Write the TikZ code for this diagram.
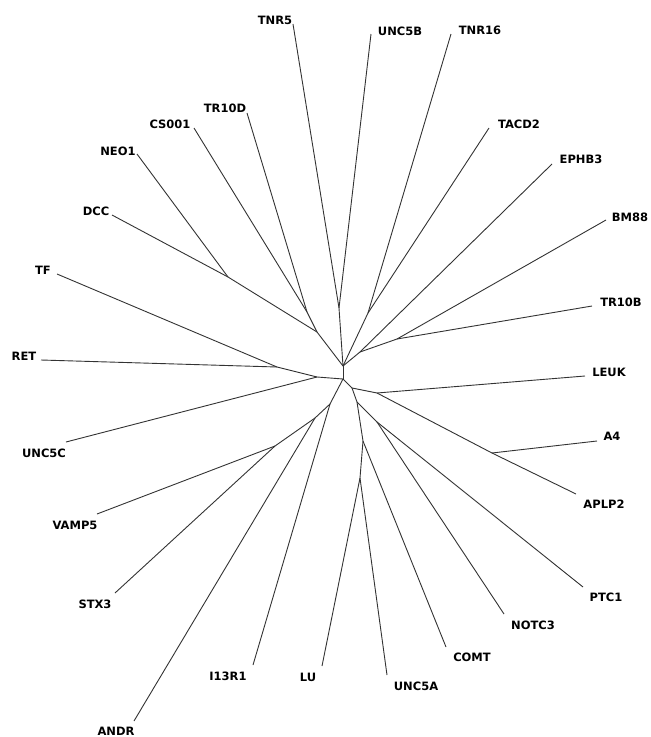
\documentclass[tikz,border=0pt]{standalone}
\usepackage{fontspec}
\setmainfont{DejaVu Sans}
\usepackage{tikz}
\usetikzlibrary{calc}

\begin{document}
\begin{tikzpicture}[x=1pt,y=-1pt,
  leaf/.style={font=\fontsize{11.5}{12}\selectfont\bfseries,inner sep=0pt},
  branch/.style={line width=0.9pt,black!80}]
\useasboundingbox (0,0) rectangle (651,737);
% inner nodes
\coordinate (c1) at (343,366);
\coordinate (c2) at (343,379);
\coordinate (ul) at (317,332);
\coordinate (csd) at (307,312);
\coordinate (nd) at (228,277);
\coordinate (tu) at (339,308);
\coordinate (tt) at (368,313);
\coordinate (er) at (360,352);
\coordinate (bt) at (397,339);
\coordinate (ll) at (317,377);
\coordinate (tr) at (277,367);
\coordinate (dl) at (330,404);
\coordinate (ag) at (315,418);
\coordinate (vs) at (275,446);
\coordinate (dr) at (352,388);
\coordinate (la) at (377,393);
\coordinate (aa) at (492,453);
\coordinate (md) at (357,402);
\coordinate (pn) at (377,422);
\coordinate (cm) at (363,441);
\coordinate (lu5) at (360,478);
% tips
\coordinate (tnr5) at (293,24);
\coordinate (unc5b) at (371,34);
\coordinate (tnr16) at (451,34);
\coordinate (tacd2) at (489,128);
\coordinate (ephb3) at (552,164);
\coordinate (bm88) at (606,220);
\coordinate (tr10b) at (592,306);
\coordinate (leuk) at (585,376);
\coordinate (a4) at (597,441);
\coordinate (aplp2) at (576,494);
\coordinate (ptc1) at (583,587);
\coordinate (notc3) at (504,614);
\coordinate (comt) at (446,647);
\coordinate (unc5a) at (387,675);
\coordinate (lu) at (322,666);
\coordinate (i13r1) at (253,665);
\coordinate (andr) at (134,721);
\coordinate (stx3) at (115,593);
\coordinate (vamp5) at (97,514);
\coordinate (unc5c) at (66,442);
\coordinate (ret) at (41,360);
\coordinate (tf) at (57,274);
\coordinate (dcc) at (112,215);
\coordinate (neo1) at (137,154);
\coordinate (cs001) at (194,128);
\coordinate (tr10d) at (247,113);
% labels
\node[leaf] (tnr5-l) at (275,20) {TNR5};
\node[leaf] (unc5b-l) at (400,31) {UNC5B};
\node[leaf] (tnr16-l) at (480,30) {TNR16};
\node[leaf] (tacd2-l) at (519,124) {TACD2};
\node[leaf] (ephb3-l) at (581,159) {EPHB3};
\node[leaf] (bm88-l) at (630,217) {BM88};
\node[leaf] (tr10b-l) at (621,302) {TR10B};
\node[leaf] (leuk-l) at (609,372) {LEUK};
\node[leaf] (a4-l) at (612,436) {A4};
\node[leaf] (aplp2-l) at (604,504) {APLP2};
\node[leaf] (ptc1-l) at (606,597) {PTC1};
\node[leaf] (notc3-l) at (533,625) {NOTC3};
\node[leaf] (comt-l) at (472,657) {COMT};
\node[leaf] (unc5a-l) at (416,686) {UNC5A};
\node[leaf] (lu-l) at (308,677) {LU};
\node[leaf] (i13r1-l) at (228,676) {I13R1};
\node[leaf] (andr-l) at (116,731) {ANDR};
\node[leaf] (stx3-l) at (95,604) {STX3};
\node[leaf] (vamp5-l) at (75,525) {VAMP5};
\node[leaf] (unc5c-l) at (44,453) {UNC5C};
\node[leaf] (ret-l) at (24,356) {RET};
\node[leaf] (tf-l) at (43,270) {TF};
\node[leaf] (dcc-l) at (96,211) {DCC};
\node[leaf] (neo1-l) at (118,151) {NEO1};
\node[leaf] (cs001-l) at (170,124) {CS001};
\node[leaf] (tr10d-l) at (225,108) {TR10D};
% branches
\draw[branch] (c1) -- (c2);
\draw[branch] (c1) -- (ul);
\draw[branch] (ul) -- (csd);
\draw[branch] (csd) -- (cs001);
\draw[branch] (csd) -- (tr10d);
\draw[branch] (ul) -- (nd);
\draw[branch] (nd) -- (neo1);
\draw[branch] (nd) -- (dcc);
\draw[branch] (c1) -- (tu);
\draw[branch] (tu) -- (tnr5);
\draw[branch] (tu) -- (unc5b);
\draw[branch] (c1) -- (tt);
\draw[branch] (tt) -- (tnr16);
\draw[branch] (tt) -- (tacd2);
\draw[branch] (c1) -- (er);
\draw[branch] (er) -- (ephb3);
\draw[branch] (er) -- (bt);
\draw[branch] (bt) -- (bm88);
\draw[branch] (bt) -- (tr10b);
\draw[branch] (c2) -- (ll);
\draw[branch] (ll) -- (tr);
\draw[branch] (tr) -- (tf);
\draw[branch] (tr) -- (ret);
\draw[branch] (ll) -- (unc5c);
\draw[branch] (c2) -- (dl);
\draw[branch] (dl) -- (i13r1);
\draw[branch] (dl) -- (ag);
\draw[branch] (ag) -- (andr);
\draw[branch] (ag) -- (vs);
\draw[branch] (vs) -- (vamp5);
\draw[branch] (vs) -- (stx3);
\draw[branch] (c2) -- (dr);
\draw[branch] (dr) -- (la);
\draw[branch] (la) -- (leuk);
\draw[branch] (la) -- (aa);
\draw[branch] (aa) -- (a4);
\draw[branch] (aa) -- (aplp2);
\draw[branch] (dr) -- (md);
\draw[branch] (md) -- (pn);
\draw[branch] (pn) -- (ptc1);
\draw[branch] (pn) -- (notc3);
\draw[branch] (md) -- (cm);
\draw[branch] (cm) -- (comt);
\draw[branch] (cm) -- (lu5);
\draw[branch] (lu5) -- (lu);
\draw[branch] (lu5) -- (unc5a);
\end{tikzpicture}
\end{document}
